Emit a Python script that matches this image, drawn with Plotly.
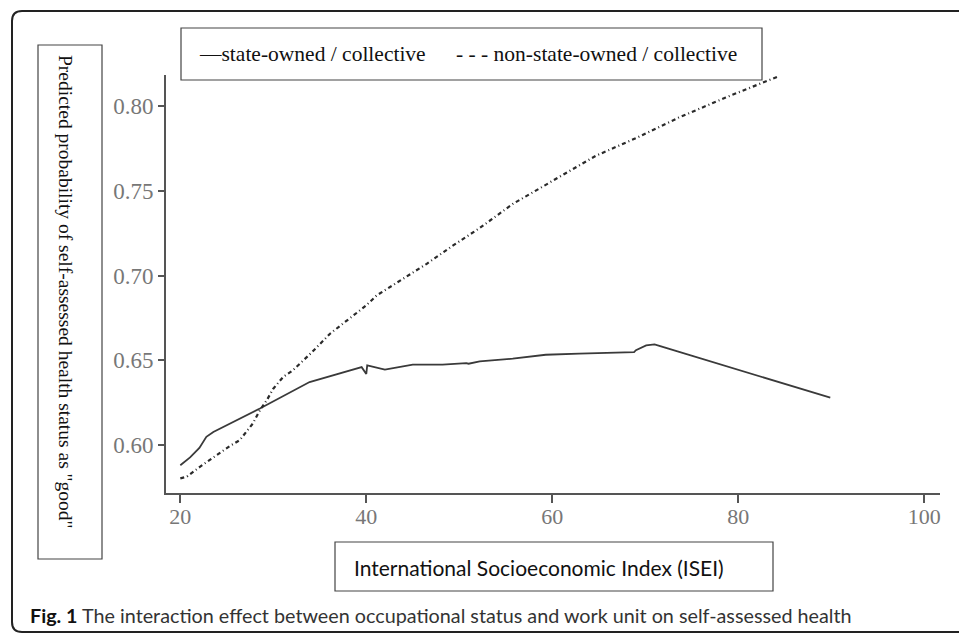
import plotly.graph_objects as go

# ---- data ----
state_x = [20.0, 21.05, 22.05, 22.8, 23.55, 28.56, 33.9, 35.3, 39.5, 40.0, 40.1, 42.0, 45.0, 48.2, 50.75, 51.0, 52.2, 55.75, 59.3, 62.9, 66.5, 68.8, 69.0, 70.1, 71.0, 71.7, 89.9]
state_y = [0.5882, 0.5928, 0.5984, 0.6049, 0.6078, 0.6216, 0.6372, 0.6394, 0.6460, 0.6420, 0.6470, 0.6445, 0.6475, 0.6475, 0.6484, 0.6480, 0.6494, 0.6510, 0.6533, 0.6540, 0.6545, 0.6549, 0.6560, 0.6588, 0.6594, 0.6582, 0.6280]

nonstate_x = [20.0, 20.7, 22.1, 23.9, 25.3, 26.4, 27.8, 28.56, 29.3, 30.0, 31.06, 32.1, 34.1, 36.1, 37.9, 40.0, 41.1, 43.6, 46.5, 49.3, 52.2, 55.75, 60.0, 64.7, 69.0, 73.6, 78.65, 84.4]
nonstate_y = [0.5804, 0.5814, 0.5872, 0.5941, 0.5994, 0.6030, 0.6128, 0.6206, 0.6265, 0.6333, 0.6402, 0.6441, 0.6545, 0.6657, 0.6735, 0.6824, 0.6882, 0.6970, 0.7069, 0.7176, 0.7280, 0.7422, 0.7559, 0.7706, 0.7810, 0.7931, 0.8049, 0.8176]

x_ticks = [20, 40, 60, 80, 100]
y_ticks = [0.60, 0.65, 0.70, 0.75, 0.80]
y_tick_labels = ["0.60", "0.65", "0.70", "0.75", "0.80"]

series_names = ["state-owned / collective", "non-state-owned / collective"]
y_title = 'Predicted probability of self-assessed health status as "good"'
x_title = "International Socioeconomic Index (ISEI)"
caption_bold = "Fig. 1"
caption_text = " The interaction effect between occupational status and work unit on self-assessed health"

# ---- layout geometry (pixels) ----
W, H = 959, 633
L, R, T, B = 166, 940, 75, 493


def px(x):
    return (x - L) / (R - L)


def py(y):
    return (B - y) / (B - T)


fig = go.Figure()
fig.add_trace(go.Scatter(x=state_x, y=state_y, mode="lines", name=series_names[0],
                         line=dict(color="#3a3a3a", width=1.8)))
fig.add_trace(go.Scatter(x=nonstate_x, y=nonstate_y, mode="lines", name=series_names[1],
                         line=dict(color="#2a2a2a", width=2.2, dash="4px,3px,1px,3px")))

serif = "Liberation Serif, Times New Roman, serif"
sans = "Lato, Open Sans, sans-serif"

fig.update_layout(
    width=W, height=H,
    margin=dict(l=L, r=W - R, t=T, b=H - B),
    paper_bgcolor="white", plot_bgcolor="white",
    showlegend=False,
    xaxis=dict(range=[18.46, 101.7], tickvals=x_ticks, ticks="outside", ticklen=8,
               tickwidth=1.5, tickcolor="#555", showline=True, linecolor="#555", linewidth=2,
               showgrid=False, zeroline=False, ticklabelstandoff=-5,
               tickfont=dict(family=serif, size=22, color="#777")),
    yaxis=dict(range=[0.5718, 0.8182], tickvals=y_ticks, ticktext=y_tick_labels,
               ticks="outside", ticklen=6, tickwidth=1.5, tickcolor="#555",
               showline=True, linecolor="#555", linewidth=2,
               showgrid=False, zeroline=False,
               tickfont=dict(family=serif, size=23, color="#777")),
)

shapes = []
# outer rounded frame
r = 10
x0, y0, x1, y1 = 12, 11, 990, 632
path = (f"M {px(x0 + r)},{py(y0)} L {px(x1)},{py(y0)} L {px(x1)},{py(y1)} "
        f"L {px(x0 + r)},{py(y1)} Q {px(x0)},{py(y1)} {px(x0)},{py(y1 - r)} "
        f"L {px(x0)},{py(y0 + r)} Q {px(x0)},{py(y0)} {px(x0 + r)},{py(y0)} Z")
shapes.append(dict(type="path", xref="paper", yref="paper", path=path,
                   line=dict(color="#222", width=2)))
# y title box
shapes.append(dict(type="rect", xref="paper", yref="paper", x0=px(38), x1=px(102),
                   y0=py(45), y1=py(559), line=dict(color="#444", width=1.2)))
# legend box
shapes.append(dict(type="rect", xref="paper", yref="paper", x0=px(181), x1=px(762),
                   y0=py(28), y1=py(80), fillcolor="white", layer="above",
                   line=dict(color="#444", width=1.2)))
# x title box
shapes.append(dict(type="rect", xref="paper", yref="paper", x0=px(335), x1=px(773),
                   y0=py(542), y1=py(591), line=dict(color="#444", width=1.2)))
fig.update_layout(shapes=shapes)

ann = []
ann.append(dict(xref="paper", yref="paper", x=px(66), y=py(292), text=y_title,
                textangle=90, showarrow=False, xanchor="center", yanchor="middle",
                font=dict(family=serif, size=19.5, color="#111")))
ann.append(dict(xref="paper", yref="paper", x=px(197), y=py(54), text="—" + series_names[0],
                showarrow=False, xanchor="left", yanchor="middle",
                font=dict(family=serif, size=21.5, color="#111")))
ann.append(dict(xref="paper", yref="paper", x=px(454), y=py(54), text="- - - " + series_names[1],
                showarrow=False, xanchor="left", yanchor="middle",
                font=dict(family=serif, size=21.5, color="#111")))
ann.append(dict(xref="paper", yref="paper", x=px(539), y=py(567), text=x_title,
                showarrow=False, xanchor="center", yanchor="middle",
                font=dict(family=sans, size=21, color="#111")))
ann.append(dict(xref="paper", yref="paper", x=px(28), y=py(615),
                text=f"<b>{caption_bold}</b><span style='color:#333'>{caption_text}</span>",
                showarrow=False, xanchor="left", yanchor="middle",
                font=dict(family=sans, size=19.75, color="#111")))
fig.update_layout(annotations=ann)

fig.write_html("out.html", config={"displayModeBar": False},
               post_script="document.body.style.margin='0px';document.body.style.overflow='hidden';")
